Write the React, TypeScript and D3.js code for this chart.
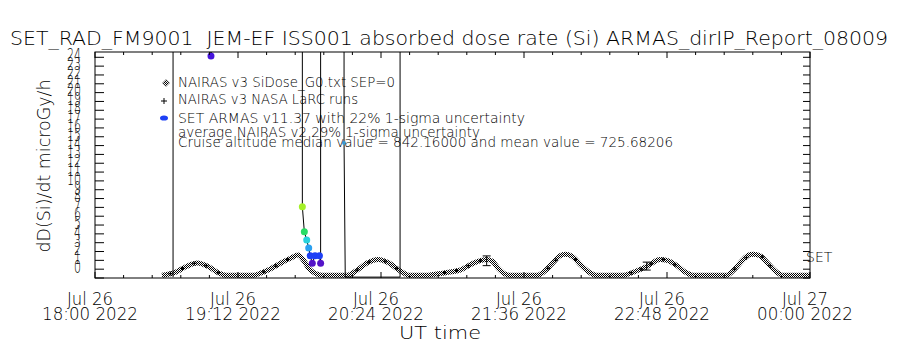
import React from 'react';
import * as d3 from 'd3';

// time is minutes after Jul 26 18:00 UT
const X_TICKS = [0, 72, 144, 216, 288, 360];
const X_TICK_DAY = ['Jul 26', 'Jul 26', 'Jul 26', 'Jul 26', 'Jul 26', 'Jul 27'];
const X_TICK_TIME = ['18:00 2022', '19:12 2022', '20:24 2022', '21:36 2022', '22:48 2022', '00:00 2022'];
const Y_LABELS = d3.range(0, 25);

// NAIRAS v3 SiDose_G0 model curve
const NAIRAS_T = [33.7, 40, 46, 51.6, 57, 62, 66.5, 79.5, 84, 88, 94.8, 99, 102.2, 105, 108, 111, 114,
  127, 132, 137, 142.6, 148, 153, 158.6, 166, 172, 178, 183.8, 190.3, 197.2, 200, 203, 206, 209,
  222.4, 226, 230, 234, 236.6, 240, 244, 248.5, 252.6, 265.8, 271, 277.8, 284.5, 288, 293, 297, 301,
  318, 322, 326, 329, 331.5, 335, 339, 343, 346.6, 360];
const NAIRAS_V = [0.3, 0.6, 1.3, 1.7, 1.3, 0.6, 0.3, 0.3, 0.6, 1.0, 1.85, 2.3, 2.6, 2.0, 1.0, 0.5, 0.3,
  0.3, 0.9, 1.7, 2.1, 1.7, 0.9, 0.3, 0.3, 0.45, 0.65, 0.9, 1.66, 2.1, 1.9, 1.1, 0.5, 0.3,
  0.3, 0.7, 1.6, 2.5, 2.7, 2.5, 1.6, 0.7, 0.3, 0.3, 0.65, 1.3, 2.1, 2.0, 1.4, 0.7, 0.3,
  0.3, 1.0, 2.0, 2.6, 2.7, 2.5, 1.6, 0.7, 0.3, 0.3];

// NAIRAS v3 NASA LaRC runs
const LARC_T = [38, 44, 50, 56, 62, 85, 91, 97, 132, 138, 146, 152, 176, 182, 188, 194, 228, 232, 242, 270, 275, 280, 286, 292, 322, 328, 336, 340];
const LARC_V = [0.5, 1.1, 1.65, 1.4, 0.6, 0.7, 1.35, 2.1, 0.9, 1.8, 1.9, 1.1, 0.6, 0.85, 1.4, 1.95, 1.1, 2.0, 2.1, 0.6, 1.0, 1.6, 2.1, 1.5, 1.0, 2.3, 2.4, 1.4];

// average NAIRAS v2 uncertainty bars
const ERR_T = [197.2, 277.8];
const ERR_LO = [1.4, 0.9];
const ERR_HI = [2.5, 1.8];

// SET ARMAS trace
const SET_T = [39.3, 39.3, 58.4, 104.4, 104.4, 105.4, 106.6, 107.6, 108.4, 109.4, 110.8, 113.0, 113.6, 113.6, 125.4, 125.4, 126.0, 153.6, 153.6];
const SET_V = [0.1, 200, 25.15, 200, 8.08, 5.24, 4.3, 3.4, 2.53, 1.67, 2.53, 2.53, 1.67, 200, 200, 15.3, 0.1, 0.1, 200];

// SET ARMAS markers
const DOT_T = [58.4, 104.4, 105.4, 106.6, 107.6, 108.4, 109.4, 110.8, 113.0, 113.6, 125.4];
const DOT_V = [25.15, 8.08, 5.24, 4.3, 3.4, 2.53, 1.67, 2.53, 2.53, 1.67, 15.3];
const DOT_KEY = [6, 5, 4, 3, 2, 1, 0, 1, 1, 0, 7];

const LEGEND = [
  'NAIRAS v3 SiDose_G0.txt SEP=0',
  'NAIRAS v3 NASA LaRC runs',
  'SET ARMAS v11.37 with 22% 1-sigma uncertainty',
  'average NAIRAS v2 29% 1-sigma uncertainty',
  'Cruise altitude median value = 842.16000 and mean value = 725.68206',
];

const FONT = 'DejaVu Sans, Liberation Sans, Arial, sans-serif';

export default function App() {
  const x = d3.scaleLinear().domain([0, 360]).range([95, 810]);
  const y = d3.scaleLinear().domain([0, 25.6]).range([278, 52]);
  const dotColour = d3.scaleOrdinal<number, string>()
    .domain([0, 1, 2, 3, 4, 5, 6, 7])
    .range(['#5414c8', '#1e40f5', '#2aa0f0', '#28d2dc', '#28dc64', '#a4f028', '#4614dc', '#3c9bd2']);

  const smooth = d3.line<[number, number]>().x(d => x(d[0])).y(d => y(d[1])).curve(d3.curveMonotoneX);
  const straight = d3.line<[number, number]>().x(d => x(d[0])).y(d => y(d[1]));

  const nairas = d3.zip(NAIRAS_T, NAIRAS_V) as [number, number][];
  const setTrace = d3.zip(SET_T, SET_V) as [number, number][];

  const minorX = d3.range(0, 360.01, 14.4);
  const yTicks = d3.range(0, 26);

  const legendWidths = [217, 180, 347, 302, 495];
  const legendBase = [87, 104, 123, 137, 147];

  return (
    <svg width={900} height={350} style={{ position: 'absolute', left: 0, top: 0, background: '#fff' }}
      fontFamily={FONT} fontWeight={200}>
      <defs>
        <pattern id="checker" width={2} height={2} patternUnits="userSpaceOnUse">
          <rect width={2} height={2} fill="#fff" />
          <rect x={0} y={0} width={1} height={1} fill="#000" />
          <rect x={1} y={1} width={1} height={1} fill="#000" />
        </pattern>
        <clipPath id="plot">
          <rect x={95} y={52} width={715} height={226} />
        </clipPath>
      </defs>
      <rect width={900} height={350} fill="#fff" />

      <text x={10} y={45} fontSize={20} textLength={878} lengthAdjust="spacingAndGlyphs" style={{ whiteSpace: 'pre' }}>
        {'SET_RAD_FM9001  JEM-EF ISS001 absorbed dose rate (Si) ARMAS_dirIP_Report_08009'}
      </text>

      {/* model curve */}
      <g clipPath="url(#plot)">
        <path d={smooth(nairas) || ''} fill="none" stroke="url(#checker)" strokeWidth={5} />
        {LARC_T.map((t, i) => (
          <path key={i} d={`M${x(t) - 2},${y(LARC_V[i])}h4M${x(t)},${y(LARC_V[i]) - 2}v4`} stroke="#000" strokeWidth={1.2} />
        ))}
        {ERR_T.map((t, i) => (
          <g key={i} stroke="#000" strokeWidth={1}>
            <line x1={x(t)} x2={x(t)} y1={y(ERR_LO[i])} y2={y(ERR_HI[i])} />
            <line x1={x(t) - 4} x2={x(t) + 4} y1={y(ERR_LO[i])} y2={y(ERR_LO[i])} />
            <line x1={x(t) - 4} x2={x(t) + 4} y1={y(ERR_HI[i])} y2={y(ERR_HI[i])} />
          </g>
        ))}
        <path d={straight(setTrace) || ''} fill="none" stroke="#000" strokeWidth={1} />
        {DOT_T.map((t, i) => (
          <circle key={i} cx={x(t)} cy={y(DOT_V[i])} r={DOT_KEY[i] === 7 ? 2 : 3.5} fill={dotColour(DOT_KEY[i])} />
        ))}
      </g>

      {/* frame */}
      <rect x={95} y={52} width={715} height={226} fill="none" stroke="#000" strokeWidth={1} />

      {/* x ticks */}
      {minorX.map((t, i) => {
        const major = i % 5 === 0;
        const len = major ? 6 : 3;
        return (
          <g key={i} stroke="#000">
            <line x1={x(t)} x2={x(t)} y1={278} y2={278 - len} />
            <line x1={x(t)} x2={x(t)} y1={52} y2={52 + len} />
          </g>
        );
      })}
      {X_TICKS.map((t, i) => (
        <g key={i} fontSize={17}>
          <text x={x(t) - 5} y={305} textAnchor="middle" textLength={46} lengthAdjust="spacingAndGlyphs">{X_TICK_DAY[i]}</text>
          <text x={x(t) - 5} y={320} textAnchor="middle" textLength={96} lengthAdjust="spacingAndGlyphs">{X_TICK_TIME[i]}</text>
        </g>
      ))}
      <text x={440} y={339} fontSize={17} textAnchor="middle" textLength={82} lengthAdjust="spacingAndGlyphs">UT time</text>

      {/* y ticks */}
      {yTicks.map(v => (
        <g key={v} stroke="#000">
          <line x1={95} x2={104} y1={y(v)} y2={y(v)} />
          <line x1={810} x2={803} y1={y(v)} y2={y(v)} />
        </g>
      ))}
      {Y_LABELS.map(v => (
        <text key={v} x={81} y={y(v)} dy={-5} fontSize={17} textAnchor="end"
          textLength={String(v).length * 7} lengthAdjust="spacingAndGlyphs">{v}</text>
      ))}
      <text transform="translate(50,166) rotate(-90)" fontSize={17} textAnchor="middle"
        textLength={173} lengthAdjust="spacingAndGlyphs">dD(Si)/dt microGy/h</text>

      <text x={806} y={262} fontSize={14}>SET</text>

      {/* legend */}
      <path d="M166,79.5l3.5,3.5l-3.5,3.5l-3.5,-3.5z" fill="url(#checker)" stroke="#555" strokeWidth={0.5} />
      <path d="M161,101h6M164,98v6" stroke="#000" strokeWidth={1} />
      <ellipse cx={164} cy={118} rx={4} ry={2.6} fill="#1e40f5" />
      {LEGEND.map((s, i) => (
        <text key={i} x={178} y={legendBase[i]} fontSize={14} textLength={legendWidths[i]} lengthAdjust="spacingAndGlyphs">{s}</text>
      ))}
    </svg>
  );
}
